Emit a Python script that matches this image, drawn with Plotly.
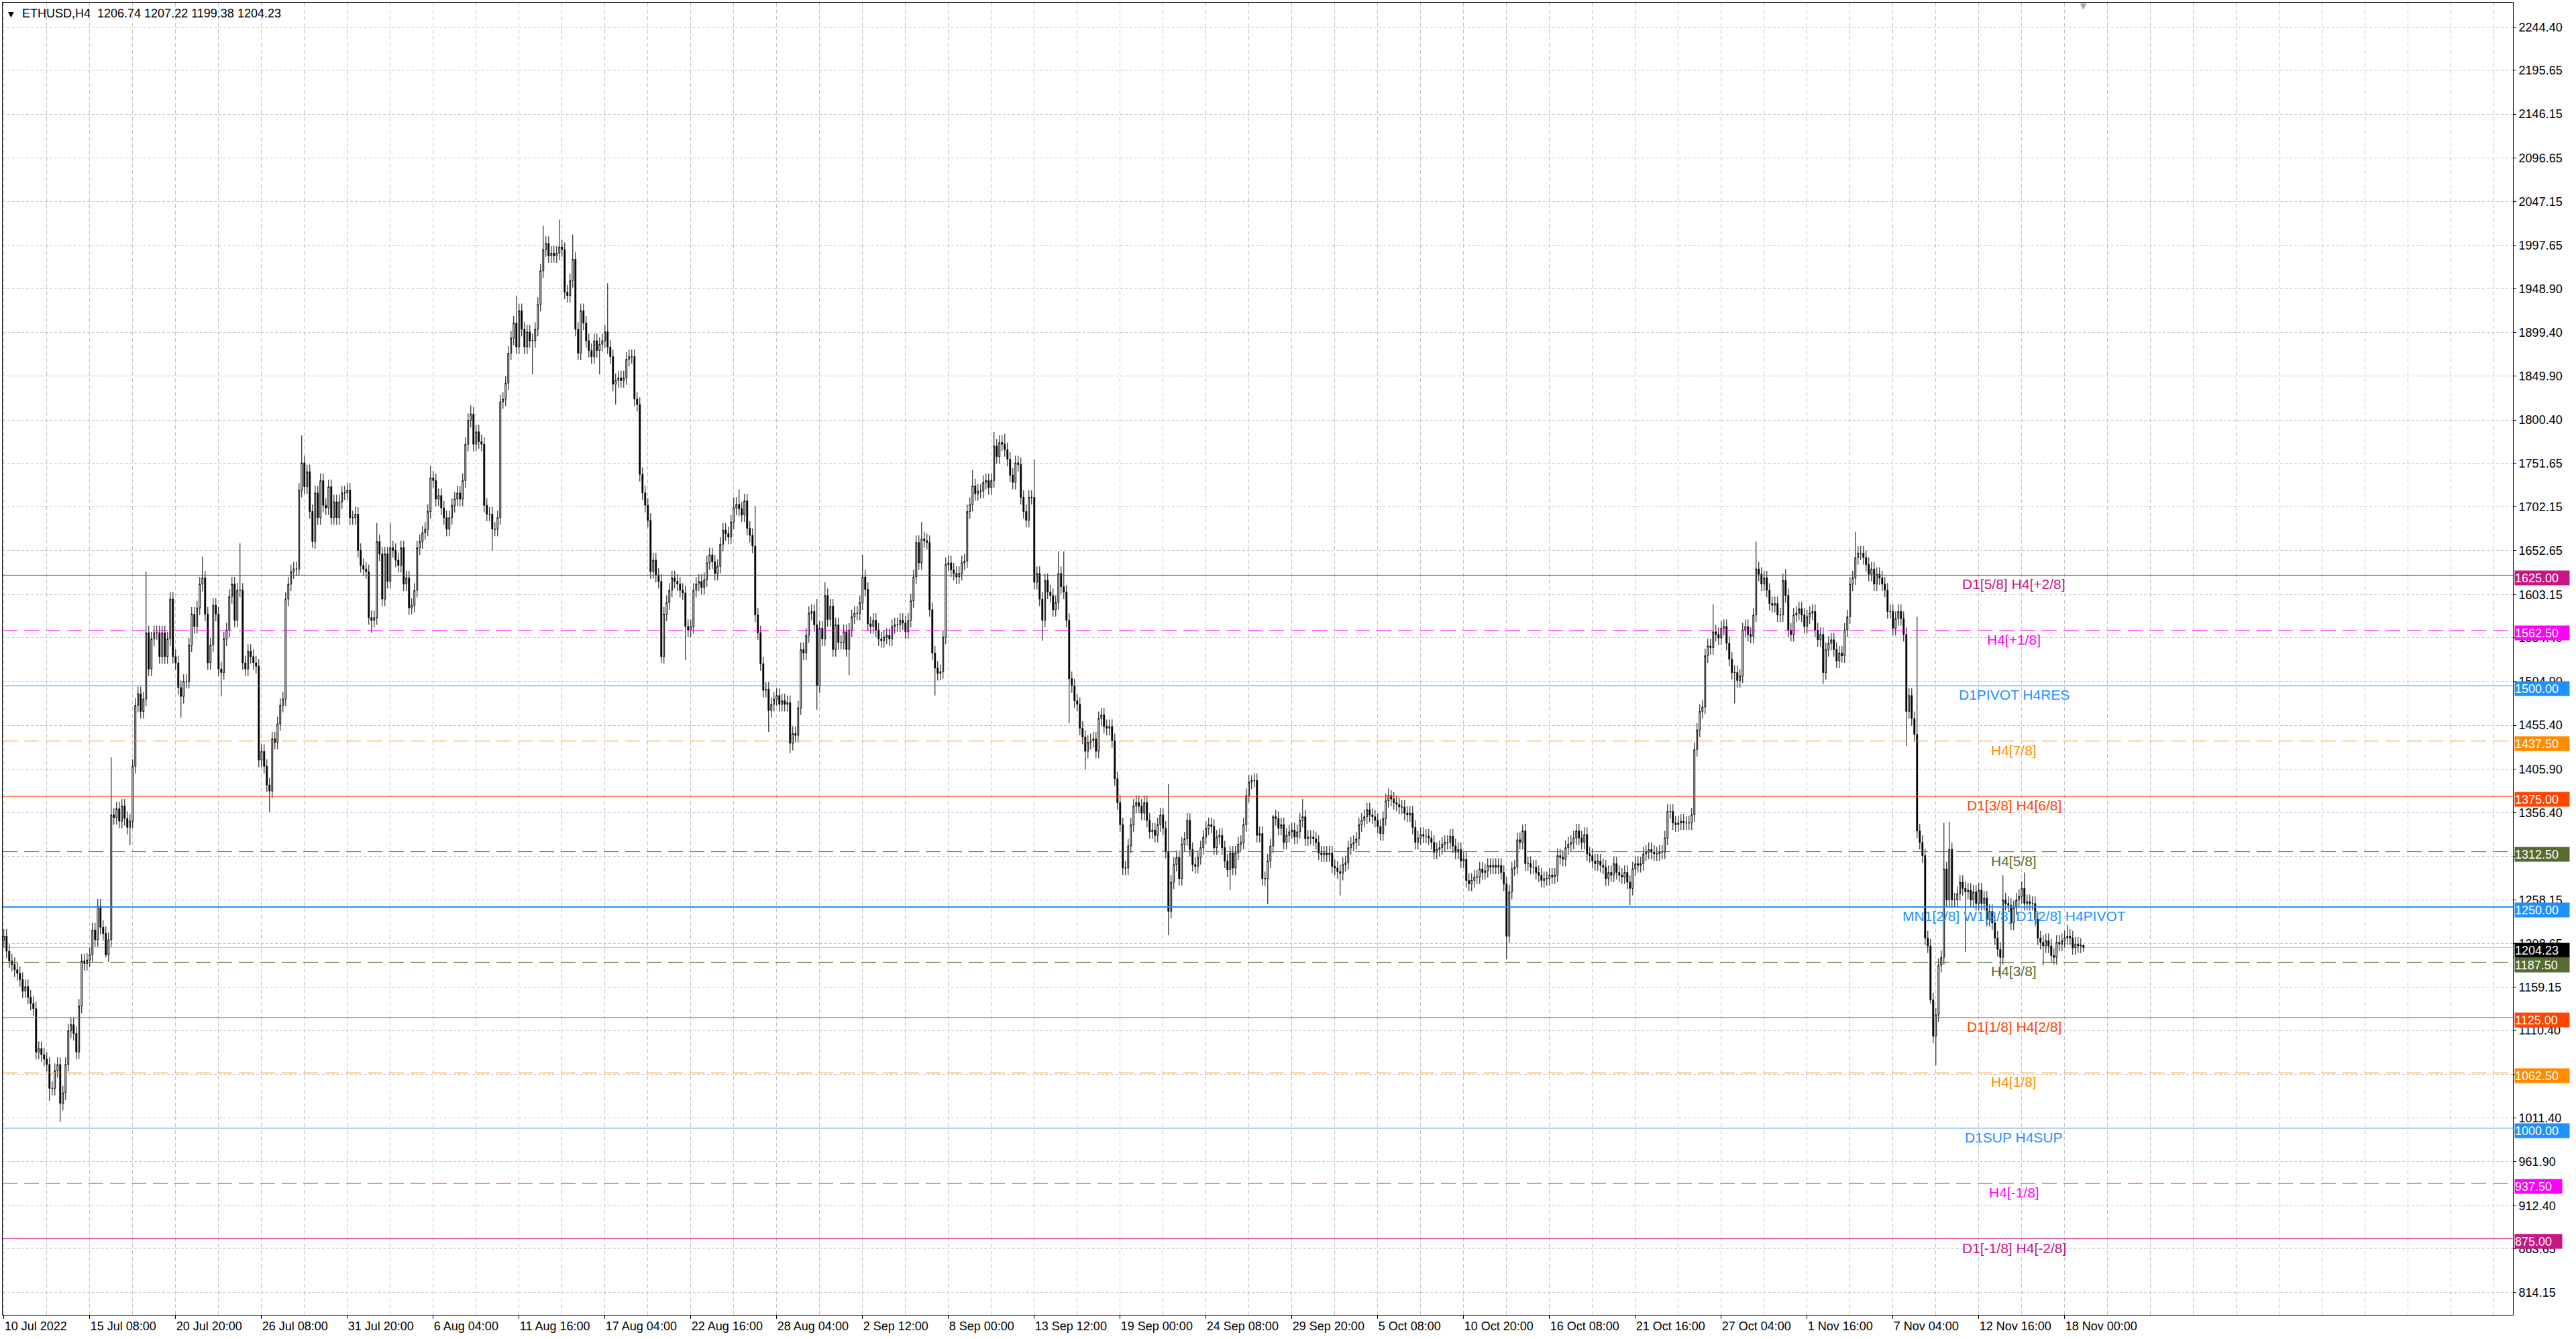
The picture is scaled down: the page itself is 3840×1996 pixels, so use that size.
import plotly.graph_objects as go

# ---------------- data ----------------
symbol_title = "ETHUSD,H4"

closes = [
    1217, 1200, 1189, 1185, 1179, 1175, 1168, 1155, 1160, 1148,
    1141, 1135, 1086, 1090, 1083, 1078, 1072, 1045, 1045, 1065,
    1072, 1028, 1040, 1072, 1110, 1117, 1107, 1086, 1138, 1189,
    1186, 1190, 1196, 1224, 1213, 1251, 1227, 1220, 1196, 1213,
    1354, 1351, 1361, 1347, 1364, 1350, 1340, 1347, 1409, 1478,
    1491, 1471, 1485, 1560, 1519, 1553, 1560, 1560, 1533, 1560,
    1533, 1553, 1598, 1533, 1526, 1498, 1488, 1505, 1505, 1546,
    1581, 1567, 1588, 1615, 1622, 1581, 1526, 1546, 1591, 1581,
    1519, 1515, 1553, 1563, 1601, 1615, 1574, 1608, 1608, 1526,
    1519, 1539, 1533, 1526, 1522, 1416, 1426, 1409, 1388, 1381,
    1440, 1436, 1457, 1478, 1485, 1598, 1615, 1629, 1632, 1632,
    1721, 1752, 1725, 1742, 1697, 1663, 1718, 1690, 1732, 1704,
    1701, 1725, 1690, 1708, 1690, 1708, 1718, 1718, 1721, 1690,
    1690, 1694, 1653, 1636, 1632, 1629, 1577, 1574, 1577, 1663,
    1649, 1598, 1649, 1618, 1656, 1653, 1642, 1636, 1656, 1615,
    1622, 1588, 1591, 1608, 1656, 1663, 1673, 1677, 1697, 1735,
    1732, 1711, 1715, 1701, 1690, 1677, 1690, 1704, 1711, 1718,
    1711, 1732, 1773, 1800, 1807, 1773, 1787, 1776, 1773, 1704,
    1694, 1694, 1677, 1677, 1690, 1821, 1824, 1842, 1876, 1893,
    1910, 1883, 1924, 1903, 1883, 1900, 1890, 1890, 1903, 1931,
    1969, 1993, 2000, 1986, 1989, 1986, 1989, 1996, 1993, 1945,
    1941, 1958, 1982, 1903, 1876, 1924, 1910, 1890, 1879, 1872,
    1890, 1879, 1886, 1890, 1900, 1883, 1872, 1841, 1845, 1848,
    1845, 1848, 1869, 1872, 1872, 1824, 1818, 1739, 1718, 1704,
    1687, 1629, 1642, 1625, 1618, 1533, 1581, 1594, 1608, 1622,
    1618, 1615, 1608, 1605, 1567, 1563, 1567, 1608, 1615, 1618,
    1611, 1620, 1639, 1648, 1640, 1627, 1635, 1660, 1676, 1672,
    1668, 1685, 1701, 1705, 1700, 1693, 1709, 1678, 1670, 1658,
    1580, 1560, 1525, 1495, 1496, 1472, 1479, 1485, 1489, 1479,
    1483, 1479, 1481, 1435, 1446, 1444, 1475, 1541, 1537, 1557,
    1582, 1584, 1569, 1500, 1565, 1553, 1602, 1575, 1590, 1541,
    1569, 1549, 1549, 1561, 1541, 1563, 1578, 1582, 1582, 1594,
    1623, 1609, 1570, 1567, 1574, 1563, 1553, 1551, 1555, 1557,
    1553, 1567, 1569, 1569, 1574, 1571, 1561, 1574, 1596, 1623,
    1662, 1639, 1666, 1664, 1662, 1586, 1537, 1520, 1514, 1516,
    1555, 1637, 1639, 1631, 1627, 1623, 1627, 1639, 1641, 1697,
    1705, 1726, 1717, 1720, 1720, 1730, 1732, 1724, 1732, 1771,
    1759, 1775, 1773, 1767, 1756, 1738, 1730, 1752, 1750, 1713,
    1697, 1687, 1713, 1713, 1617, 1627, 1598, 1574, 1619, 1606,
    1602, 1586, 1594, 1627, 1612, 1606, 1574, 1508, 1500, 1483,
    1479, 1452, 1442, 1426, 1436, 1438, 1440, 1426, 1463, 1467,
    1454, 1452, 1454, 1438, 1395, 1368, 1343, 1294, 1294, 1319,
    1343, 1364, 1368, 1364, 1356, 1368, 1348, 1335, 1337, 1331,
    1343, 1354, 1339, 1313, 1245, 1278, 1298, 1306, 1282, 1321,
    1327, 1348, 1315, 1298, 1296, 1306, 1317, 1329, 1339, 1343,
    1341, 1317, 1329, 1331, 1317, 1302, 1292, 1311, 1294, 1311,
    1321, 1323, 1343, 1376, 1391, 1393, 1393, 1331, 1333, 1282,
    1282, 1302, 1319, 1352, 1350, 1339, 1343, 1323, 1331, 1335,
    1337, 1329, 1335, 1348, 1352, 1327, 1329, 1329, 1327, 1323,
    1311, 1309, 1311, 1309, 1311, 1296, 1294, 1290, 1288, 1298,
    1300, 1317, 1321, 1323, 1327, 1343, 1348, 1352, 1360, 1354,
    1352, 1348, 1341, 1333, 1350, 1370, 1376, 1372, 1368, 1366,
    1363, 1363, 1356, 1354, 1356, 1340, 1323, 1328, 1332, 1330,
    1330, 1328, 1323, 1312, 1315, 1317, 1321, 1323, 1323, 1330,
    1319, 1312, 1315, 1302, 1304, 1280, 1276, 1280, 1284, 1284,
    1293, 1289, 1291, 1297, 1295, 1297, 1295, 1297, 1289, 1276,
    1217, 1267, 1293, 1295, 1326, 1323, 1336, 1299, 1299, 1295,
    1295, 1289, 1286, 1280, 1282, 1282, 1286, 1284, 1286, 1308,
    1306, 1304, 1317, 1321, 1323, 1328, 1336, 1328, 1323, 1332,
    1310, 1308, 1302, 1299, 1302, 1297, 1295, 1282, 1289, 1286,
    1299, 1289, 1286, 1284, 1289, 1278, 1271, 1293, 1299, 1297,
    1299, 1310, 1312, 1315, 1312, 1310, 1310, 1312, 1312, 1328,
    1358, 1358, 1345, 1343, 1345, 1347, 1345, 1345, 1345, 1354,
    1428, 1450, 1471, 1476, 1534, 1545, 1543, 1561, 1558, 1554,
    1565, 1567, 1548, 1530, 1515, 1515, 1506, 1511, 1563, 1567,
    1558, 1556, 1580, 1632, 1626, 1615, 1622, 1608, 1593, 1591,
    1593, 1580, 1580, 1619, 1602, 1563, 1558, 1580, 1582, 1587,
    1580, 1567, 1578, 1582, 1584, 1563, 1552, 1558, 1515, 1541,
    1548, 1552, 1541, 1528, 1537, 1534, 1563, 1578, 1615, 1622,
    1645, 1650, 1650, 1645, 1637, 1626, 1632, 1615, 1626, 1622,
    1615, 1608, 1584, 1584, 1565, 1576, 1584, 1576, 1558, 1471,
    1489, 1463, 1445, 1336, 1323, 1308, 1215, 1206, 1145, 1104,
    1128, 1184, 1193, 1293, 1258, 1315, 1258, 1258, 1265, 1278,
    1271, 1267, 1269, 1258, 1267, 1254, 1269, 1254, 1260, 1236,
    1245, 1232, 1215, 1202, 1193, 1258, 1254, 1252, 1232, 1249,
    1258, 1262, 1271, 1254, 1256, 1254, 1254, 1236, 1215, 1210,
    1206, 1212, 1206, 1195, 1193, 1210, 1208, 1212, 1215, 1217,
    1215, 1204, 1208, 1206, 1206.74, 1204.23,
]
first_open = 1212.0
typical_wick = 8.0

spike_highs = {
    40: 1419, 53: 1629, 74: 1646, 88: 1661, 111: 1783, 139: 1684, 144: 1684,
    159: 1749, 174: 1817, 191: 1941, 201: 2020, 207: 2027, 212: 2010, 225: 1955,
    272: 1713, 274: 1722, 280: 1703, 303: 1598, 306: 1617, 320: 1648, 342: 1685,
    361: 1744, 369: 1787, 373: 1785, 384: 1756, 393: 1652, 395: 1652, 434: 1389,
    441: 1356, 465: 1399, 473: 1354, 484: 1372, 517: 1382, 566: 1343, 637: 1592,
    653: 1663, 664: 1632, 690: 1674, 713: 1578, 723: 1345, 725: 1346, 745: 1286,
    753: 1289, 769: 1230, 775: 1207.22,
}
spike_lows = {
    17: 1031, 21: 1007, 38: 1193, 47: 1320, 66: 1464, 81: 1488, 99: 1357,
    115: 1656, 137: 1560, 152: 1581, 182: 1653, 197: 1852, 222: 1852, 228: 1818,
    245: 1526, 254: 1529, 285: 1448, 293: 1424, 303: 1473, 315: 1512, 347: 1489,
    387: 1551, 397: 1458, 403: 1405, 434: 1218, 457: 1269, 471: 1253, 498: 1263,
    560: 1191, 606: 1252, 645: 1480, 678: 1502, 709: 1432, 718: 1141, 720: 1071,
    731: 1199, 744: 1169, 760: 1184, 775: 1199.38,
}

time_labels = [
    "10 Jul 2022", "15 Jul 08:00", "20 Jul 20:00", "26 Jul 08:00", "31 Jul 20:00",
    "6 Aug 04:00", "11 Aug 16:00", "17 Aug 04:00", "22 Aug 16:00", "28 Aug 04:00",
    "2 Sep 12:00", "8 Sep 00:00", "13 Sep 12:00", "19 Sep 00:00", "24 Sep 08:00",
    "29 Sep 20:00", "5 Oct 08:00", "10 Oct 20:00", "16 Oct 08:00", "21 Oct 16:00",
    "27 Oct 04:00", "1 Nov 16:00", "7 Nov 04:00", "12 Nov 16:00", "18 Nov 00:00",
]
bars_per_label = 32

price_ticks = [
    2244.40, 2195.65, 2146.15, 2096.65, 2047.15, 1997.65, 1948.90, 1899.40,
    1849.90, 1800.40, 1751.65, 1702.15, 1652.65, 1603.15, 1554.40, 1504.90,
    1455.40, 1405.90, 1356.40, 1306.90, 1258.15, 1208.65, 1159.15, 1110.40,
    1060.90, 1011.40, 961.90, 912.40, 863.65, 814.15,
]

level_prices = [1625.0, 1562.5, 1500.0, 1437.5, 1375.0, 1312.5, 1250.0,
                1187.5, 1125.0, 1062.5, 1000.0, 937.5, 875.0]
level_names = [
    "D1[5/8] H4[+2/8]", "H4[+1/8]", "D1PIVOT H4RES", "H4[7/8]", "D1[3/8] H4[6/8]",
    "H4[5/8]", "MN1[2/8] W1[2/8] D1[2/8] H4PIVOT", "H4[3/8]", "D1[1/8] H4[2/8]",
    "H4[1/8]", "D1SUP H4SUP", "H4[-1/8]", "D1[-1/8] H4[-2/8]",
]
level_colors = ["#C71585", "#FF00FF", "#1E90FF", "#FF8C00", "#FF4500", "#556B2F",
                "#1E90FF", "#556B2F", "#FF4500", "#FF8C00", "#1E90FF", "#FF00FF",
                "#C71585"]
level_dashed = [False, True, False, True, False, True, False,
                True, False, True, False, True, False]
level_widths = [1, 1, 1, 1, 1, 1, 2, 1, 1, 1, 1, 1, 1]

# ---------------- build OHLC ----------------
n = len(closes)
bars = list(range(n))
opens = [first_open] + closes[:-1]
highs, lows = [], []
for i in range(n):
    o, c = opens[i], closes[i]
    top, bot = max(o, c), min(o, c)
    h = spike_highs.get(i, top + typical_wick)
    l = spike_lows.get(i, bot - typical_wick)
    highs.append(max(h, top))
    lows.append(min(l, bot))

FONT = "Liberation Sans, Arial, sans-serif"
GRID = "#C4C4C4"

fig = go.Figure()
fig.add_trace(go.Candlestick(
    x=bars, open=opens, high=highs, low=lows, close=closes,
    increasing=dict(line=dict(color="black", width=1), fillcolor="white"),
    decreasing=dict(line=dict(color="black", width=1), fillcolor="black"),
    whiskerwidth=0, hoverinfo="skip", showlegend=False,
))

shapes = []
annotations = []

# level lines + labels + right-axis boxes
for p, name, col, dashed, w in zip(level_prices, level_names, level_colors,
                                   level_dashed, level_widths):
    shapes.append(dict(type="line", xref="paper", x0=0, x1=1, yref="y", y0=p, y1=p,
                       line=dict(color=col, width=w, dash="22px,10px" if dashed else "solid"),
                       layer="above"))
    annotations.append(dict(xref="paper", x=0.8012, yref="y", y=p, xanchor="center",
                            yanchor="top", yshift=0, text=name, showarrow=False,
                            font=dict(family=FONT, size=21, color=col)))
    lab = f"{p:.2f}"
    annotations.append(dict(xref="paper", x=1, yref="y", y=p, xanchor="left",
                            yanchor="middle", xshift=2, yshift=-4, text=lab,
                            showarrow=False, align="left",
                            width=81 if len(lab) > 6 else 70, height=21, borderpad=0,
                            bgcolor=col, font=dict(family=FONT, size=18, color="white")))

# current price line and box
last = closes[-1]
shapes.append(dict(type="line", xref="paper", x0=0, x1=1, yref="y", y0=last, y1=last,
                   line=dict(color="#C0C0C0", width=1), layer="below"))
annotations.append(dict(xref="paper", x=1, yref="y", y=last, xanchor="left",
                        yanchor="middle", xshift=2, yshift=-4, text=f"{last:.2f}",
                        showarrow=False, align="left", width=81, height=21, borderpad=0,
                        bgcolor="black", font=dict(family=FONT, size=18, color="white")))

# header
annotations.append(dict(xref="paper", x=0, yref="paper", y=1, xanchor="left",
                        yanchor="top", xshift=6, yshift=-9, text="▼", showarrow=False,
                        font=dict(family="DejaVu Sans", size=11, color="black")))
header = f"{symbol_title}  {opens[-1]:.2f} {highs[-1]:.2f} {lows[-1]:.2f} {closes[-1]:.2f}"
annotations.append(dict(xref="paper", x=0, yref="paper", y=1, xanchor="left",
                        yanchor="top", xshift=27, yshift=-4, text=header, showarrow=False,
                        font=dict(family=FONT, size=18, color="black")))
# chart-shift marker at top
annotations.append(dict(xref="x", x=bars[-1], yref="paper", y=1, xanchor="center",
                        yanchor="top", yshift=4, text="▼", showarrow=False,
                        font=dict(family="DejaVu Sans", size=12, color="#A8A8A8")))

fig.update_layout(
    width=3840, height=1996,
    margin=dict(l=4, r=94, t=4, b=36),
    paper_bgcolor="white", plot_bgcolor="white",
    showlegend=False, boxgap=0.35,
    shapes=shapes, annotations=annotations,
    font=dict(family=FONT, size=18, color="black"),
    xaxis=dict(
        type="linear", range=[-0.45, 935.05], rangeslider=dict(visible=False),
        tickmode="array",
        tickvals=[bars_per_label * i for i in range(len(time_labels))],
        ticktext=time_labels, ticklabelposition="outside right",
        ticks="outside", ticklen=5, tickcolor="black",
        showgrid=True, gridcolor=GRID, gridwidth=1, griddash="6px,4px",
        minor=dict(tick0=0, dtick=bars_per_label // 2, showgrid=True, gridcolor=GRID,
                   gridwidth=1, griddash="6px,4px", ticks=""),
        showline=True, linecolor="black", linewidth=1, mirror=True, zeroline=False,
        tickfont=dict(family=FONT, size=18, color="black"),
    ),
    yaxis=dict(
        side="right", range=[789.0, 2272.1],
        tickmode="array", tickvals=price_ticks,
        ticktext=[f"{v:.2f}" for v in price_ticks],
        ticks="outside", ticklen=4, tickcolor="black",
        showgrid=True, gridcolor=GRID, gridwidth=1, griddash="4px,3px",
        showline=True, linecolor="black", linewidth=1, mirror=True, zeroline=False,
        tickfont=dict(family=FONT, size=18, color="black"),
    ),
)

fig.write_html(
    "out.html",
    config={"displayModeBar": False, "staticPlot": True},
    post_script="document.body.style.margin='0';document.body.style.overflow='hidden';",
)
